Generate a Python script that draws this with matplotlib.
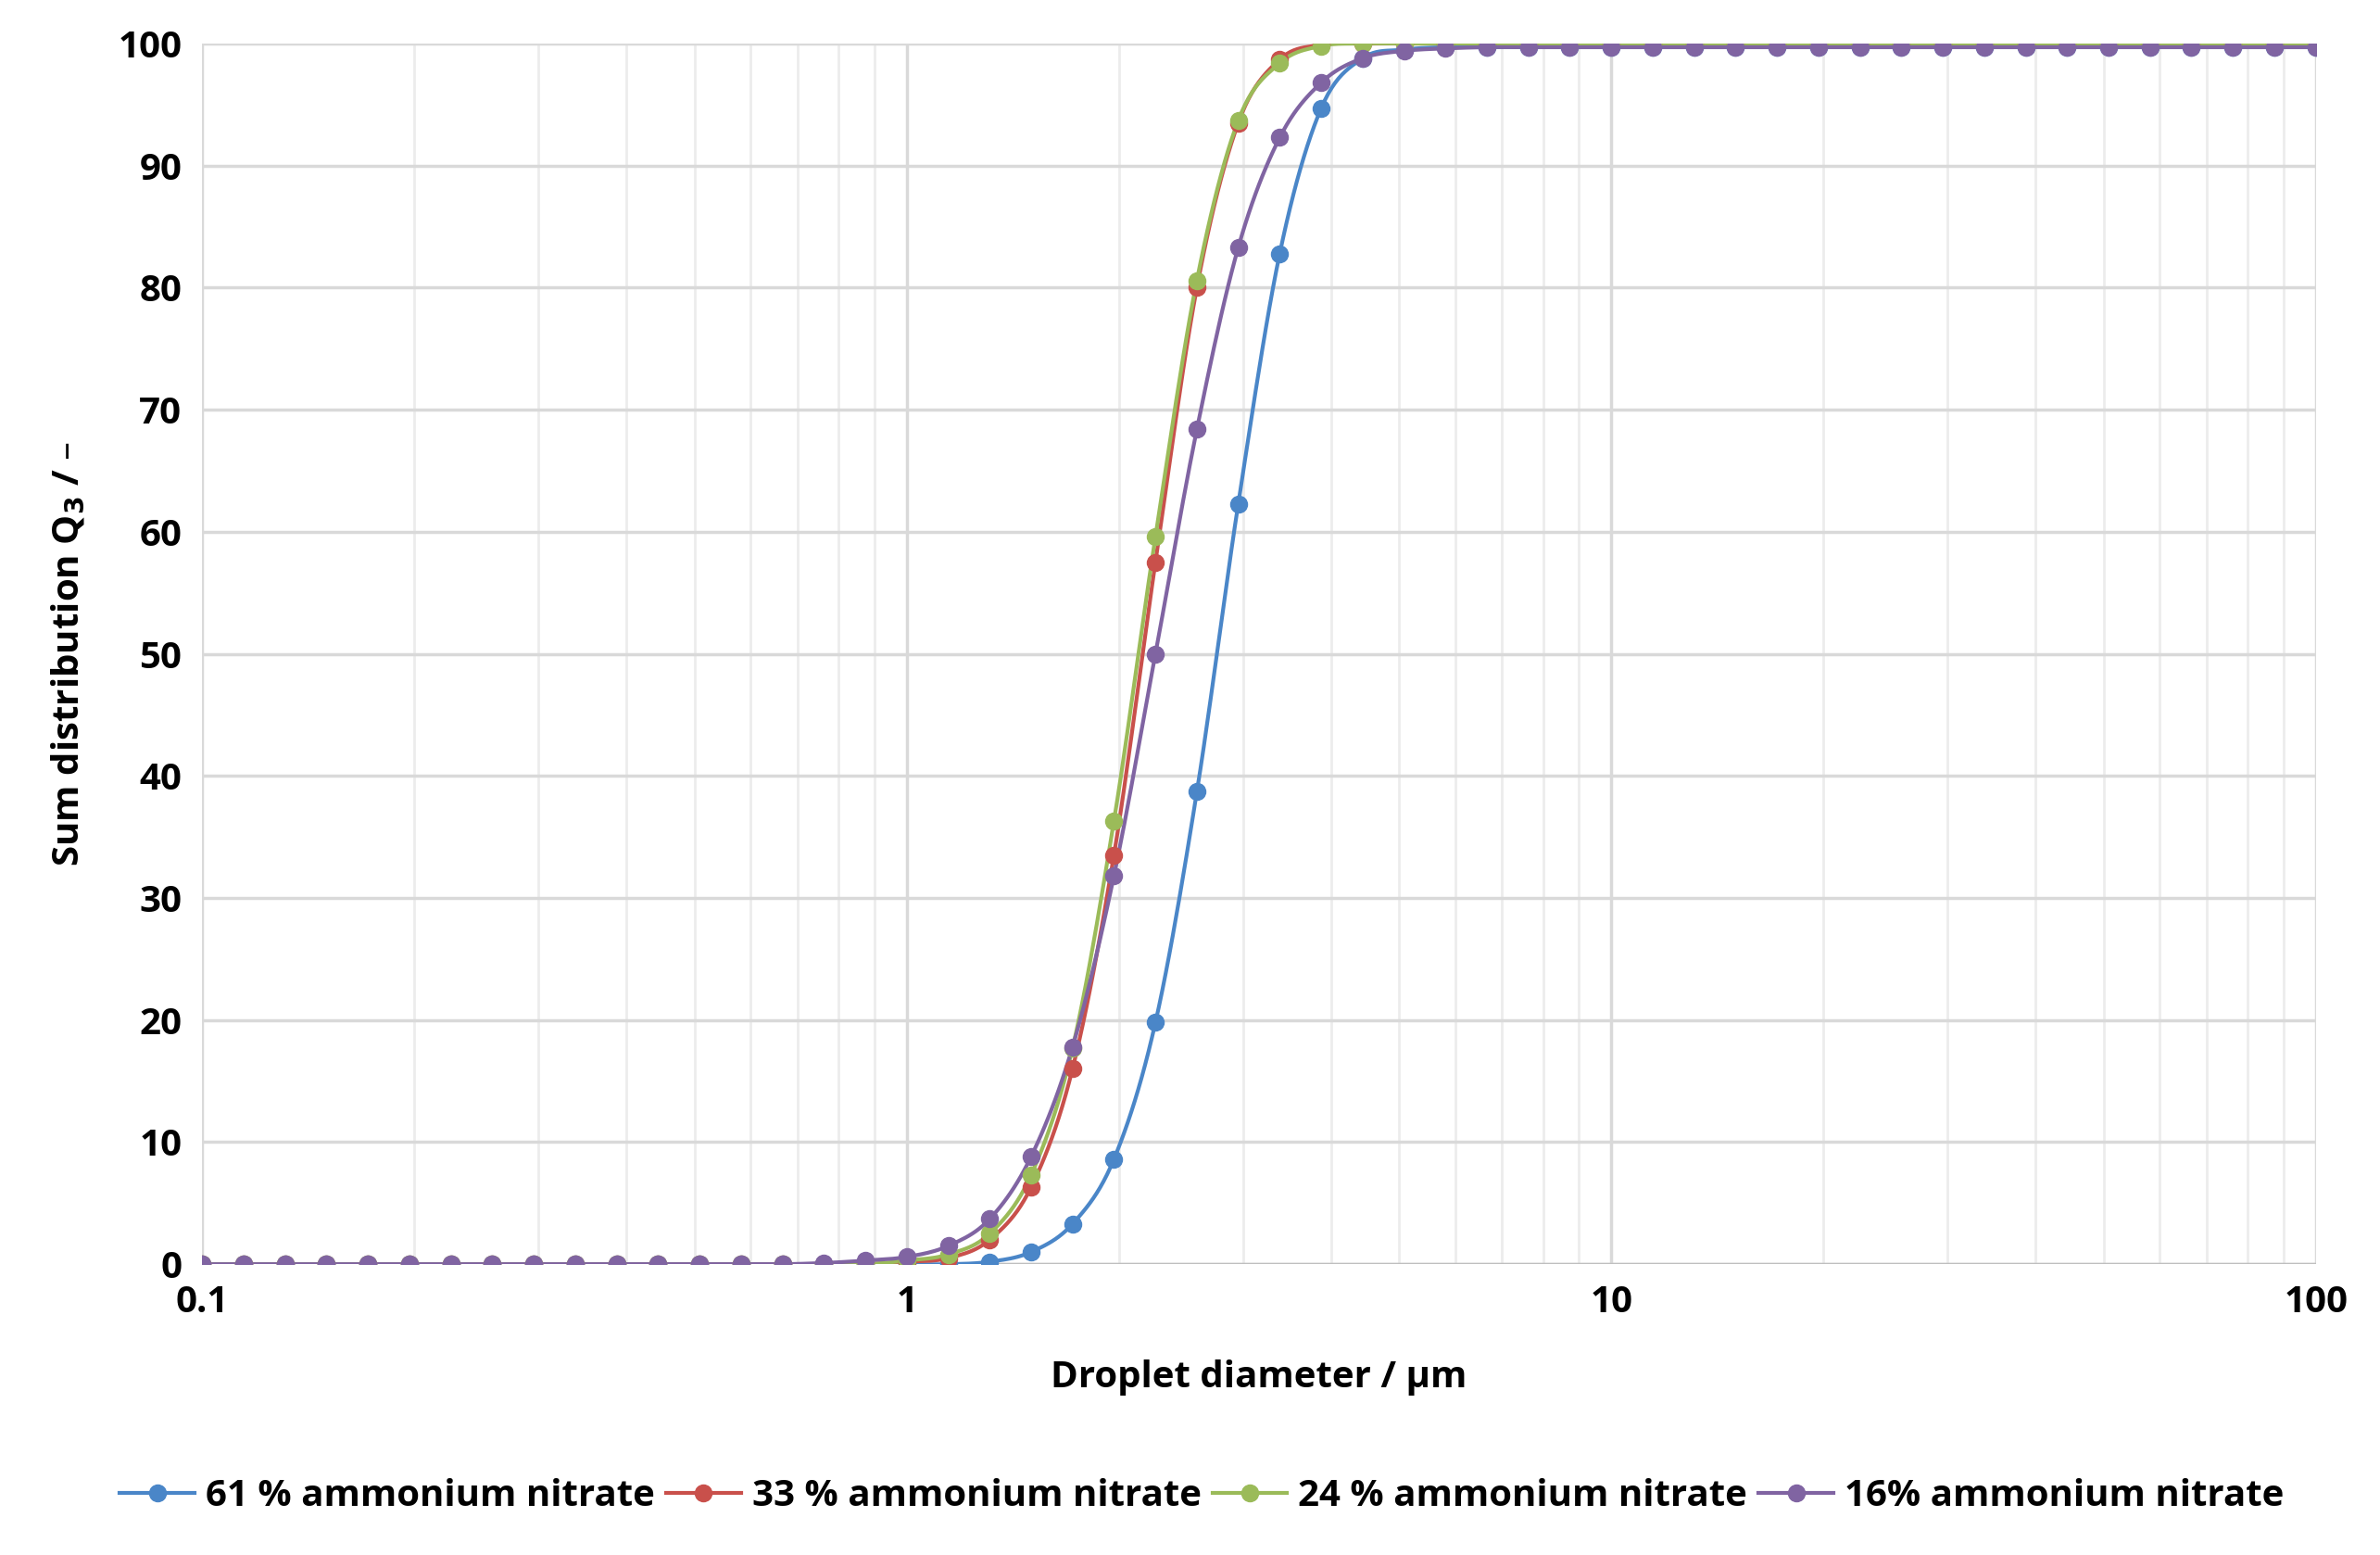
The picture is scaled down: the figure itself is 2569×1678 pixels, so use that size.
import numpy as np
import matplotlib
matplotlib.use("Agg")
import matplotlib.pyplot as plt
from matplotlib.ticker import FixedLocator, NullFormatter

plt.rcParams['font.family'] = ['Open Sans', 'DejaVu Sans']
plt.rcParams['font.weight'] = 'bold'

# measurement classes (log spaced, ~17 per decade)
diameter = [0.1, 0.1145, 0.1311, 0.1501, 0.1719, 0.1968, 0.2254, 0.2581, 0.2955, 0.3384,
            0.3875, 0.4437, 0.5081, 0.5818, 0.6661, 0.7627, 0.8733, 1.0, 1.145, 1.311,
            1.501, 1.719, 1.968, 2.254, 2.581, 2.955, 3.384, 3.875, 4.437, 5.081,
            5.818, 6.661, 7.627, 8.733, 10.0, 11.45, 13.11, 15.01, 17.19, 19.68,
            22.54, 25.81, 29.55, 33.84, 38.75, 44.37, 50.81, 58.18, 66.61, 76.27,
            87.33, 100.0]

# values from 1.0 um to 5.818 um; zeros below, plateau above
q61 = [0.0, 0.0, 0.2, 1.0, 3.3, 8.6, 19.8, 38.7, 62.3, 82.8, 94.7, 98.8, 99.5, 99.7]
q33 = [0.2, 0.5, 2.0, 6.3, 16.0, 33.5, 57.5, 80.0, 93.5, 98.7, 99.9, 100.0, 100.0, 100.0]
q24 = [0.3, 0.8, 2.5, 7.3, 17.7, 36.3, 59.6, 80.6, 93.7, 98.4, 99.8, 100.0, 100.0, 100.0]
q16 = [0.6, 1.5, 3.7, 8.8, 17.8, 31.8, 50.0, 68.4, 83.3, 92.3, 96.8, 98.8, 99.4, 99.6]
low16 = [0.1, 0.3]   # purple at 0.7627 and 0.8733
plateau = {'61': 99.7, '33': 100.0, '24': 100.0, '16': 99.7}

n_low = 17
n_high = len(diameter) - n_low - 14

def full(mid, top, low=None):
    lo = [0.0] * n_low
    if low:
        lo[-len(low):] = low
    return lo + mid + [top] * n_high

series = [
    ("61 % ammonium nitrate", full(q61, plateau['61']), "#4a86c8"),
    ("33 % ammonium nitrate", full(q33, plateau['33']), "#c9504b"),
    ("24 % ammonium nitrate", full(q24, plateau['24']), "#9bbb59"),
    ("16% ammonium nitrate", full(q16, plateau['16'], low16), "#8064a2"),
]


def smooth(x, y, n=12):
    # catmull-rom in log-x for the smoothed excel-like lines
    lx = np.log10(x)
    y = np.asarray(y, float)
    P = np.column_stack([lx, y])
    P = np.vstack([P[0], P, P[-1]])
    out = []
    t = np.linspace(0, 1, n, endpoint=False)[:, None]
    for i in range(1, len(P) - 2):
        p0, p1, p2, p3 = P[i - 1], P[i], P[i + 1], P[i + 2]
        c = 0.5 * ((2 * p1) + (-p0 + p2) * t + (2 * p0 - 5 * p1 + 4 * p2 - p3) * t ** 2
                   + (-p0 + 3 * p1 - 3 * p2 + p3) * t ** 3)
        out.append(c)
    out.append(P[-2][None, :])
    c = np.vstack(out)
    return 10 ** c[:, 0], c[:, 1]


fig = plt.figure(figsize=(25.69, 16.78), dpi=100)
ax = fig.add_axes([0.085, 0.187, 0.888, 0.785])

for label, vals, col in series:
    sx, sy = smooth(diameter, vals)
    ax.plot(sx, sy, color=col, lw=3, zorder=3)
    ax.plot(diameter, vals, 'o', color=col, ms=13, zorder=4)
    ax.plot([], [], '-o', color=col, lw=3, ms=13, label=label)

ax.set_xscale('log')
ax.set_xlim(0.1, 100)
ax.set_ylim(0, 100)
ax.set_yticks(range(0, 101, 10))
ax.set_xticks([0.1, 1, 10, 100])
ax.set_xticklabels(['0.1', '1', '10', '100'])
ax.xaxis.set_minor_locator(FixedLocator([m * d for d in (0.1, 1, 10) for m in range(2, 10)]))
ax.xaxis.set_minor_formatter(NullFormatter())
ax.grid(True, which='major', color='#d9d9d9', lw=2.5)
ax.grid(True, which='minor', axis='x', color='#ececec', lw=2)
ax.tick_params(which='both', length=0, labelsize=29, pad=16)
for s in ax.spines.values():
    s.set_visible(False)
ax.axhline(0, color='#bfbfbf', lw=2.5, zorder=2)

ax.set_xlabel('Droplet diameter / µm', fontsize=29, fontweight='bold', labelpad=30)
ax.set_ylabel('Sum distribution Q$_\\mathbf{3}$ / –', fontsize=29, fontweight='bold', labelpad=24)

fig.legend(loc='center', bbox_to_anchor=(0.505, 0.038), ncol=4, frameon=False,
           fontsize=29, handlelength=2.0, handletextpad=0.3, columnspacing=0.3)

fig.savefig("out.png", dpi=100)
